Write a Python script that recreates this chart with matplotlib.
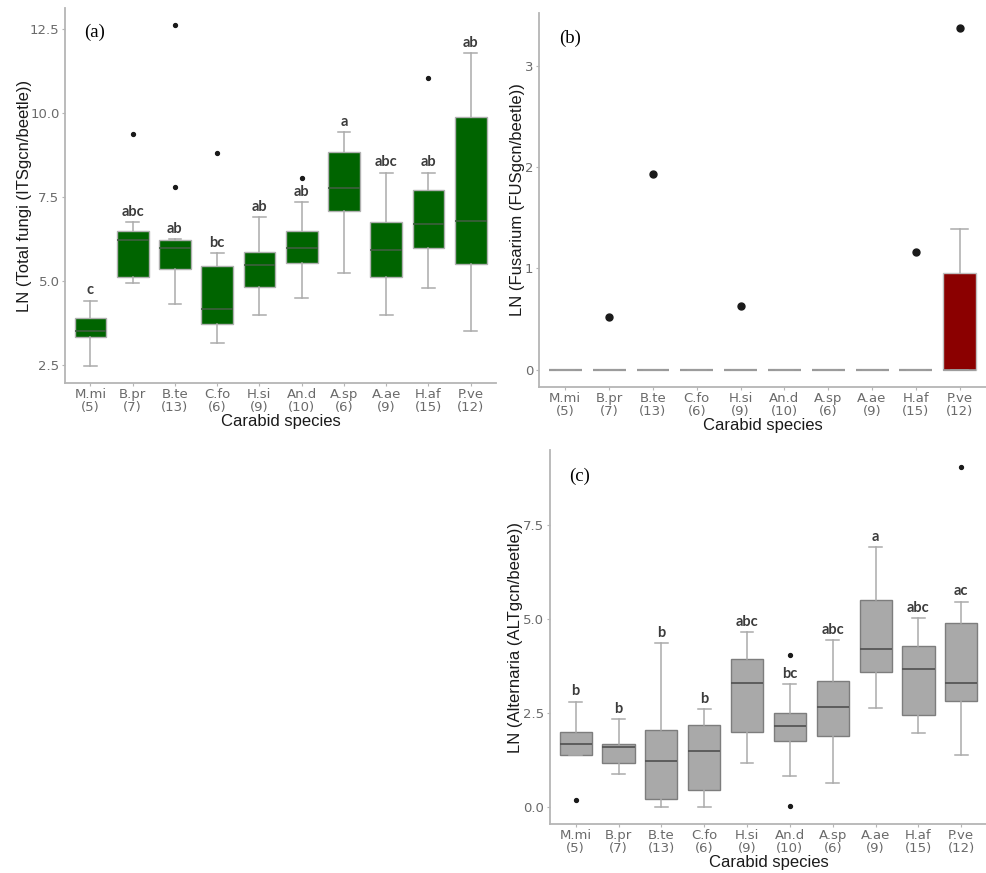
import matplotlib
matplotlib.use("Agg")
import matplotlib.pyplot as plt

species = ["M.mi", "B.pr", "B.te", "C.fo", "H.si", "An.d", "A.sp", "A.ae", "H.af", "P.ve"]
counts = [5, 7, 13, 6, 9, 10, 6, 9, 15, 12]

# (a) total fungi
fungi_low = [2.47, 4.93, 4.32, 3.14, 3.99, 4.50, 5.23, 3.99, 4.80, 3.51]
fungi_q1 = [3.32, 5.10, 5.35, 3.71, 4.83, 5.53, 7.08, 5.11, 5.98, 5.51]
fungi_med = [3.51, 6.22, 5.97, 4.16, 5.46, 5.97, 7.76, 5.92, 6.69, 6.77]
fungi_q3 = [3.89, 6.49, 6.20, 5.43, 5.85, 6.47, 8.82, 6.74, 7.69, 9.86]
fungi_high = [4.41, 6.75, 6.24, 5.82, 6.89, 7.34, 9.42, 8.22, 8.22, 11.78]
fungi_out = [[], [9.37], [7.79, 12.60], [8.80], [], [8.06], [], [], [11.03], []]
fungi_letters = ["c", "abc", "ab", "bc", "ab", "ab", "a", "abc", "ab", "ab"]

# (b) Fusarium
fus_low = [0, 0, 0, 0, 0, 0, 0, 0, 0, 0]
fus_q1 = [0, 0, 0, 0, 0, 0, 0, 0, 0, 0]
fus_med = [0, 0, 0, 0, 0, 0, 0, 0, 0, 0]
fus_q3 = [0, 0, 0, 0, 0, 0, 0, 0, 0, 0.95]
fus_high = [0, 0, 0, 0, 0, 0, 0, 0, 0, 1.39]
fus_out = [[], [0.52], [1.93], [], [0.63], [], [], [], [1.16], [3.37]]

# (c) Alternaria
alt_low = [1.39, 0.90, 0.0, 0.0, 1.17, 0.83, 0.66, 2.65, 1.97, 1.39]
alt_q1 = [1.39, 1.19, 0.22, 0.46, 2.01, 1.76, 1.91, 3.61, 2.46, 2.84]
alt_med = [1.68, 1.61, 1.23, 1.51, 3.30, 2.16, 2.68, 4.20, 3.69, 3.32]
alt_q3 = [2.01, 1.68, 2.06, 2.19, 3.95, 2.50, 3.37, 5.51, 4.30, 4.91]
alt_high = [2.81, 2.34, 4.36, 2.61, 4.67, 3.27, 4.45, 6.91, 5.04, 5.47]
alt_out = [[0.20], [], [], [], [], [4.05, 0.04], [], [], [], [9.06]]
alt_letters = ["b", "b", "b", "b", "abc", "bc", "abc", "a", "abc", "ac"]

tick_labels = [s + "\n(" + str(n) + ")" for s, n in zip(species, counts)]
positions = list(range(1, len(species) + 1))


def make_stats(low, q1, med, q3, high, out):
    stats = []
    for i in range(len(low)):
        stats.append(dict(whislo=low[i], q1=q1[i], med=med[i], q3=q3[i],
                          whishi=high[i], fliers=out[i]))
    return stats


def style_axes(ax, ylabel, yticks, ylim, ypad):
    for s in ["top", "right"]:
        ax.spines[s].set_visible(False)
    for s in ["left", "bottom"]:
        ax.spines[s].set_color("#b5b5b5")
        ax.spines[s].set_linewidth(1.3)
    ax.set_xlim(0.4, 10.6)
    ax.set_ylim(*ylim)
    ax.set_yticks(yticks)
    ax.set_xticks(positions)
    ax.set_xticklabels(tick_labels, linespacing=1.05)
    ax.tick_params(colors="#b5b5b5", labelcolor="#6a6a6a", labelsize=9.5, length=2.5)
    ax.tick_params(axis="x", pad=1)
    ax.tick_params(axis="y", pad=1.5)
    for lab in ax.get_xticklabels() + ax.get_yticklabels():
        lab.set_family("DejaVu Sans")
    ax.set_xlabel("Carabid species", fontsize=12, family="Liberation Sans",
                  color="#1a1a1a", labelpad=0)
    ax.set_ylabel(ylabel, fontsize=12, family="Liberation Sans", color="#1a1a1a",
                  labelpad=ypad)


def draw_box(ax, stats, fill, edge, med_color, capw, flier_size, lw=1.0):
    bp = ax.bxp(stats, positions=positions, widths=0.75, patch_artist=True,
                capwidths=capw, showfliers=True,
                boxprops=dict(facecolor=fill, edgecolor=edge, linewidth=lw),
                medianprops=dict(color=med_color, linewidth=1.2),
                whiskerprops=dict(color="#ababab", linewidth=1.1),
                capprops=dict(color="#ababab", linewidth=1.1),
                flierprops=dict(marker="o", markerfacecolor="#1a1a1a",
                                markeredgecolor="#1a1a1a", markersize=flier_size))
    return bp


def add_letters(ax, letters, high):
    for x, lt, h in zip(positions, letters, high):
        ax.annotate(lt, (x, h), xytext=(0, 4.5), textcoords="offset points",
                    ha="center", va="baseline", fontsize=10.5, family="Lato",
                    fontweight="bold", color="#3c3c3c")


fig = plt.figure(figsize=(9.87, 8.73), dpi=100)

ax_a = fig.add_axes([0.0659, 0.5613, 0.4367, 0.4296])
draw_box(ax_a, make_stats(fungi_low, fungi_q1, fungi_med, fungi_q3, fungi_high, fungi_out),
         "#006400", "#b0b0b0", "#3f5f3f", 0.3, 2.8)
add_letters(ax_a, fungi_letters, fungi_high)
style_axes(ax_a, "LN (Total fungi (ITSgcn/beetle))", [2.5, 5.0, 7.5, 10.0, 12.5],
           (1.96, 13.12), -1.5)
ax_a.text(0.045, 0.936, "(a)", transform=ax_a.transAxes, fontsize=13.5,
          family="Liberation Serif", va="center", ha="left")

ax_b = fig.add_axes([0.5461, 0.557, 0.4529, 0.428])
fus_fill = ["#999999"] * 9 + ["#8B0000"]
bp = draw_box(ax_b, make_stats(fus_low, fus_q1, fus_med, fus_q3, fus_high, fus_out),
              "#8B0000", "#9a9a9a", "#9a9a9a", 0.4, 5, lw=1.6)
for patch, c in zip(bp["boxes"], fus_fill):
    patch.set_facecolor(c)
bp["boxes"][-1].set_edgecolor("#c0c0c0")
bp["boxes"][-1].set_linewidth(1.0)
style_axes(ax_b, "LN (Fusarium (FUSgcn/beetle))", [0, 1, 2, 3], (-0.17, 3.52), 0)
ax_b.text(0.045, 0.933, "(b)", transform=ax_b.transAxes, fontsize=13.5,
          family="Liberation Serif", va="center", ha="left")

ax_c = fig.add_axes([0.5572, 0.0561, 0.4428, 0.4284])
draw_box(ax_c, make_stats(alt_low, alt_q1, alt_med, alt_q3, alt_high, alt_out),
         "#a9a9a9", "#7d7d7d", "#505050", 0.3, 2.8)
add_letters(ax_c, alt_letters, alt_high)
style_axes(ax_c, "LN (Alternaria (ALTgcn/beetle))", [0.0, 2.5, 5.0, 7.5], (-0.44, 9.5), 0.5)
ax_c.text(0.045, 0.93, "(c)", transform=ax_c.transAxes, fontsize=13.5,
          family="Liberation Serif", va="center", ha="left")

fig.savefig("out.png", dpi=100)
